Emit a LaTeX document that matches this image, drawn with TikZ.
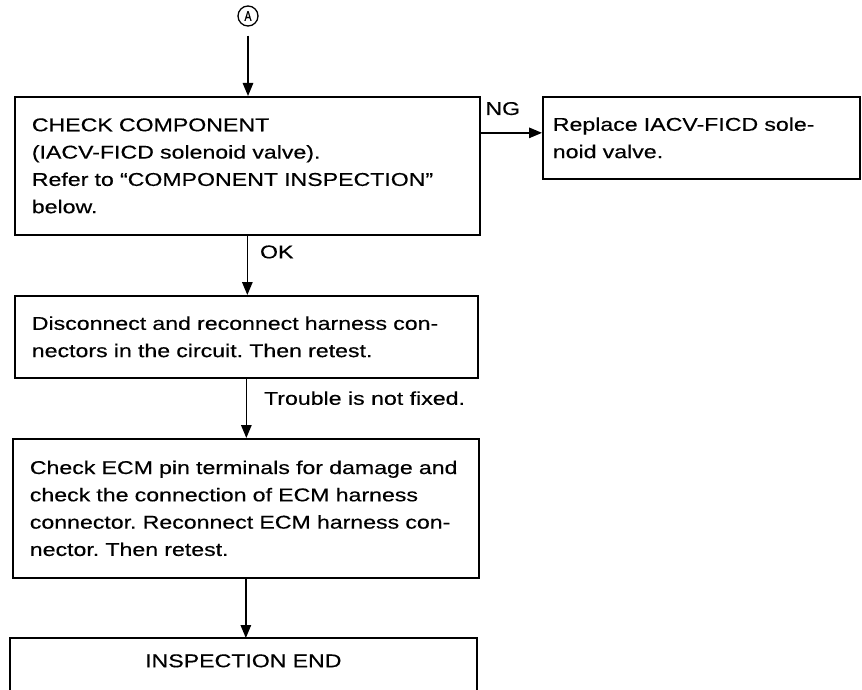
\documentclass[tikz,border=0pt]{standalone}
\usepackage{fontspec}
\usetikzlibrary{arrows.meta}
\newfontfamily\diafont{Liberation Sans}[FakeStretch=1.25, FakeBold=0.4]
\newfontfamily\tagfont{Liberation Sans}[FakeStretch=0.75, FakeBold=0.8]
\tikzset{
  stepbox/.style={draw, line width=1.7pt, anchor=north west, align=left,
                  inner xsep=17pt, inner ysep=0pt,
                  font=\diafont\fontsize{18.5}{27.3}\selectfont\frenchspacing},
  arr/.style={-{Triangle[length=13pt,width=10.5pt]}, line width=1.4pt},
  lab/.style={inner sep=0pt, font=\diafont\fontsize{18.5}{27.3}\selectfont\frenchspacing}
}

\begin{document}
\begin{tikzpicture}[x=1pt, y=-1pt]
  \useasboundingbox (0,0) rectangle (862,690);
  \clip (0,0) rectangle (862,690);

  \node[circle, draw, line width=1.3pt, inner sep=0pt, minimum size=20pt,
        font=\tagfont\fontsize{14}{14}\selectfont] (tagA) at (248,16) {A};

  \node[stepbox, text width=431pt, minimum height=138pt] (chk) at (14,96)
    {CHECK COMPONENT\\(IACV-FICD solenoid valve).\\Refer to “COMPONENT INSPECTION”\\below.};
  \node[stepbox, inner xsep=10pt, text width=297pt, minimum height=82pt] (rep) at (542,96)
    {Replace IACV-FICD sole-\\noid valve.};
  \node[stepbox, text width=429pt, minimum height=82pt] (dis) at (14,295)
    {Disconnect and reconnect harness con-\\nectors in the circuit. Then retest.};
  \node[stepbox, text width=432pt, minimum height=139pt] (ecm) at (12,438)
    {Check ECM pin terminals for damage and\\check the connection of ECM harness\\connector. Reconnect ECM harness con-\\nector. Then retest.};
  \node[stepbox, draw=none, align=center, text width=431pt, minimum height=44pt] (fin) at (10,638)
    {INSPECTION END};
  \draw[line width=1.7pt] ([yshift=-60pt]fin.south west) -- (fin.north west)
    -- (fin.north east) -- ([yshift=-60pt]fin.south east);

  \coordinate (ngin) at ([yshift=5pt]rep.west);
  \draw[arr, shorten <=9pt] (tagA) -- (tagA |- chk.north);
  \draw[arr] (chk.east |- ngin) node[lab, anchor=south west, xshift=4pt, yshift=17pt] {NG} -- (ngin);
  \draw[arr] (chk.south) node[lab, anchor=north west, xshift=12pt, yshift=-9pt] {OK} -- (chk.south |- dis.north);
  \draw[arr] (dis.south) node[lab, anchor=north west, xshift=17pt, yshift=-12pt] {Trouble is not fixed.} -- (dis.south |- ecm.north);
  \draw[arr] (ecm.south) -- (ecm.south |- fin.north);
\end{tikzpicture}
\end{document}
